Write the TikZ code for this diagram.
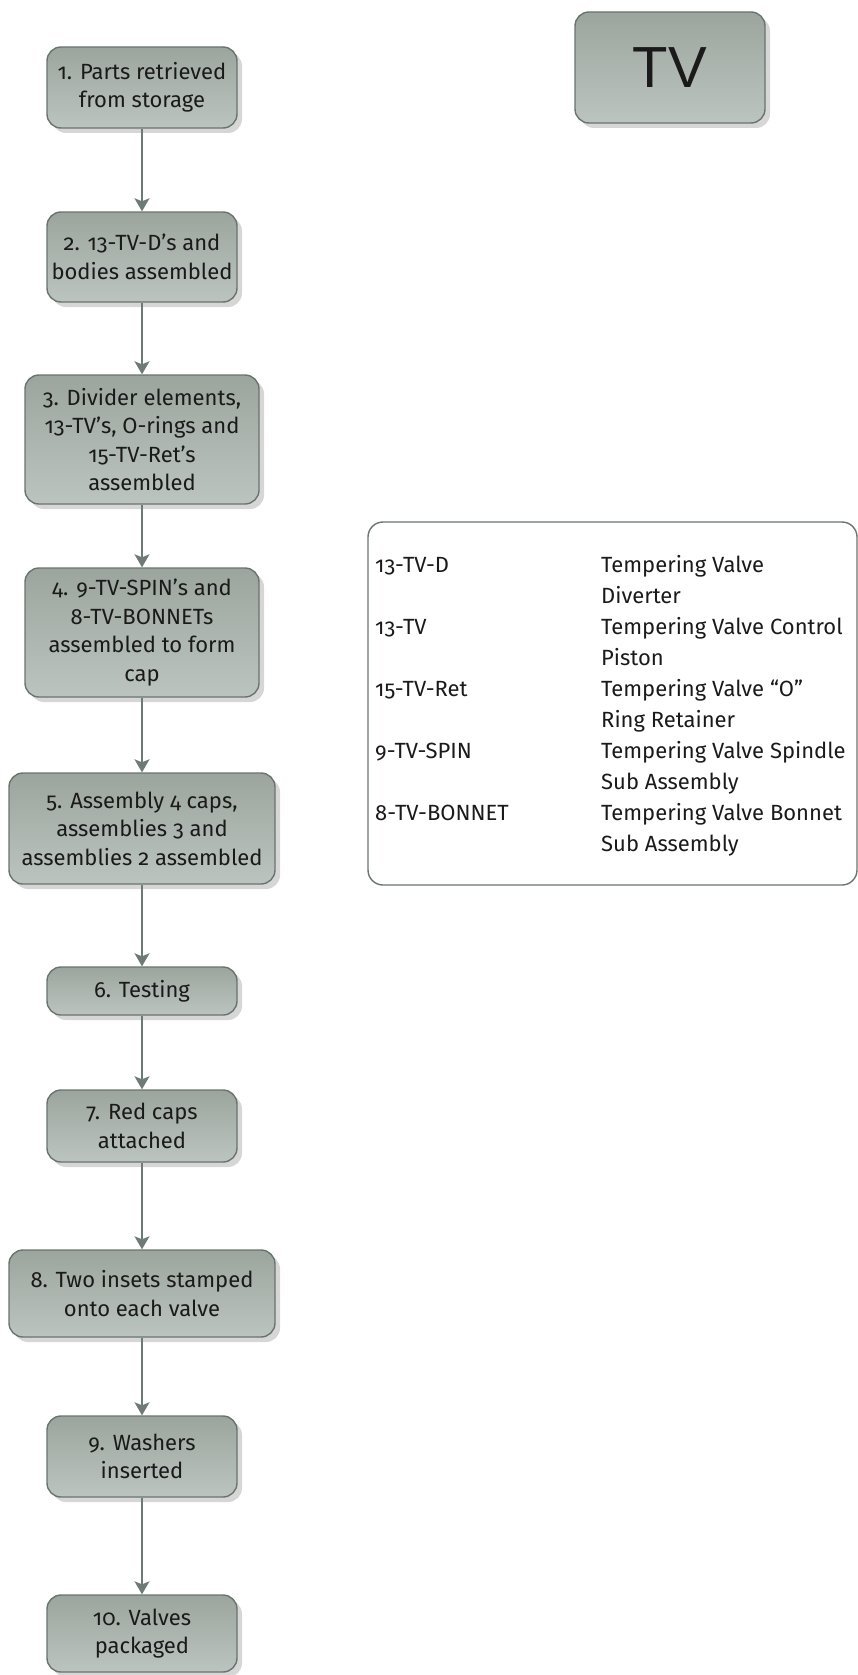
\documentclass[tikz,border=0pt]{standalone}
\usepackage{fontspec}
\setmainfont{Fira Sans}[Numbers={OldStyle,Proportional}]
\newfontfamily\tvfont{Liberation Sans}
\usetikzlibrary{arrows.meta,shadows}

\definecolor{boxtop}{HTML}{9CA59D}
\definecolor{boxbot}{HTML}{BBC4BF}
\definecolor{boxedge}{HTML}{6A746E}
\definecolor{arrowc}{HTML}{6E7A74}
\definecolor{shadowgrey}{HTML}{D6D6D6}
\definecolor{txt}{HTML}{1A1A1A}

\tikzset{
  stepbox/.style={draw=boxedge, line width=1.4pt, rounded corners=14pt,
    top color=boxtop, bottom color=boxbot,
    drop shadow={shadow xshift=5pt, shadow yshift=-5pt, fill=shadowgrey, opacity=1},
    align=center, text=txt, inner sep=0pt,
    font=\fontsize{22}{28.5}\selectfont},
  flow/.style={draw=arrowc, line width=1.8pt,
    -{Stealth[length=13pt, width=15pt, inset=3pt]}},
  legendbox/.style={draw=boxedge, line width=1.4pt, rounded corners=15pt, inner sep=0pt},
  legtext/.style={anchor=base west, inner sep=0pt, text=txt,
    font=\fontsize{22}{31}\selectfont},
}

\begin{document}
\begin{tikzpicture}[x=1pt, y=-1pt]
\useasboundingbox (0,0) rectangle (858,1675);

% process steps
\node[stepbox, minimum width=190pt, minimum height=81pt]  (s1)  at (142,87.5)   {1. Parts retrieved\\from storage};
\node[stepbox, minimum width=190pt, minimum height=90pt]  (s2)  at (142,257)    {2. 13-TV-D’s and\\bodies assembled};
\node[stepbox, minimum width=234pt, minimum height=129pt] (s3)  at (142,439.5)  {3. Divider elements,\\13-TV’s, O-rings and\\15-TV-Ret’s\\assembled};
\node[stepbox, minimum width=234pt, minimum height=129pt] (s4)  at (142,632.5)  {4. 9-TV-SPIN’s and\\8-TV-BONNETs\\assembled to form\\cap};
\node[stepbox, minimum width=266pt, minimum height=111pt] (s5)  at (142,828.5)  {5. Assembly 4 caps,\\assemblies 3 and\\assemblies 2 assembled};
\node[stepbox, minimum width=190pt, minimum height=48pt]  (s6)  at (142,991)    {6. Testing};
\node[stepbox, minimum width=190pt, minimum height=72pt]  (s7)  at (142,1126)   {7. Red caps\\attached};
\node[stepbox, minimum width=266pt, minimum height=87pt]  (s8)  at (142,1293.5) {8. Two insets stamped\\onto each valve};
\node[stepbox, minimum width=190pt, minimum height=81pt]  (s9)  at (142,1456.5) {9. Washers\\inserted};
\node[stepbox, minimum width=190pt, minimum height=77pt]  (s10) at (142,1633.5) {10. Valves\\packaged};

% flow connectors
\foreach \a/\b in {s1/s2, s2/s3, s3/s4, s4/s5, s5/s6, s6/s7, s7/s8, s8/s9, s9/s10}
  \draw[flow] (\a.south) -- (\b.north);

% title box
\node[stepbox, minimum width=190pt, minimum height=111pt, font=\tvfont\fontsize{58}{60}\selectfont] (tv) at (670,67.5) {TV};

% legend of part codes
\node[legendbox, minimum width=489pt, minimum height=363pt] (legend) at (612.5,703.5) {};
\foreach \code/\la/\lb [count=\i from 0] in {
    13-TV-D/Tempering Valve/Diverter,
    13-TV/Tempering Valve Control/Piston,
    15-TV-Ret/Tempering Valve “O”/Ring Retainer,
    9-TV-SPIN/Tempering Valve Spindle/Sub Assembly,
    8-TV-BONNET/Tempering Valve Bonnet/Sub Assembly} {
  \node[legtext] (code\i) at (375, 572+62.2*\i) {\code};
  \node[legtext] (desca\i) at (601, 572+62.2*\i) {\la};
  \node[legtext] (descb\i) at (601, 603.1+62.2*\i) {\lb};
}
\end{tikzpicture}
\end{document}
